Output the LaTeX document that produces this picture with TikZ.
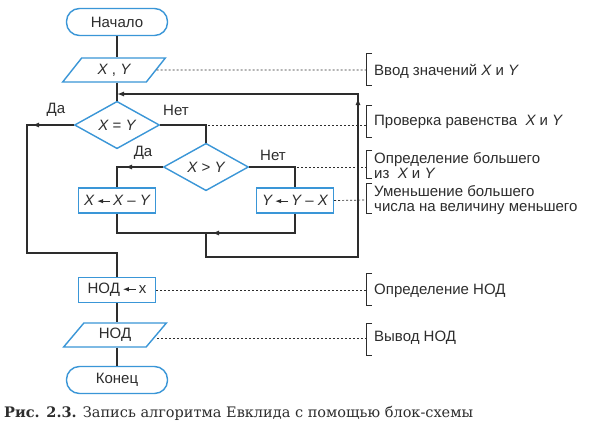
\documentclass[tikz,border=0pt]{standalone}
\usepackage{fontspec}
\setmainfont{Liberation Sans}
\newfontfamily\capfont{DejaVu Serif}
\usetikzlibrary{shapes.geometric,arrows.meta,calc}
\definecolor{shapeblue}{RGB}{58,150,215}
\definecolor{ink}{RGB}{45,45,45}
\newcommand{\lar}{\tikz[baseline=0pt,x=1pt,y=1pt]\draw[ink,line width=1pt,-{Latex[length=6pt,width=4.5pt]}] (13,4.5)--(0,4.5);}
\begin{document}
\begin{tikzpicture}[x=1pt,y=-1pt,
  font=\fontsize{15}{15}\selectfont,
  term/.style={draw=shapeblue,line width=1.4pt,fill=white,rounded corners=13pt,minimum width=101pt,minimum height=27pt,text=ink,inner sep=0pt},
  io/.style={trapezium,trapezium left angle=52,trapezium right angle=128,trapezium stretches=true,draw=shapeblue,line width=1.4pt,fill=white,minimum width=103pt,minimum height=24pt,text=ink,inner sep=0pt},
  cond/.style={diamond,draw=shapeblue,line width=1.4pt,fill=white,minimum width=85pt,minimum height=41pt,text=ink,inner sep=0pt},
  proc/.style={draw=shapeblue,line width=1.4pt,fill=white,minimum width=77pt,minimum height=25pt,text=ink,inner sep=0pt},
  conn/.style={draw=ink,line width=1.3pt},
  tip/.style={conn,-{Latex[length=7pt,width=5pt]}},
  guide/.style={draw=ink,line width=0.7pt,dash pattern=on 2pt off 2pt},
  brk/.style={draw=ink,line width=0.8pt},
  note/.style={anchor=west,text=ink,inner sep=0pt,align=left,font=\fontsize{15}{15}\selectfont},
  lbl/.style={text=ink,inner sep=0pt}]
\fill[white] (0,0) rectangle (597,434);
\useasboundingbox (0,0) rectangle (597,434);

% shapes
\node[term] (start) at (117,22) {Начало};
\node[io] (in) at (114,70) {{\itshape X} , {\itshape Y}};
\node[cond] (eq) at (117,125) {{\itshape X} = {\itshape Y}};
\node[cond] (gt) at (206,167) {{\itshape X} > {\itshape Y}};
\node[proc] (xbox) at (117,200.5) {{\itshape X}\,\lar\,{\itshape X} -- {\itshape Y}};
\node[proc] (ybox) at (295,200.5) {{\itshape Y}\,\lar\,{\itshape Y} -- {\itshape X}};
\node[proc] (nod) at (117,290) {НОД\,\lar\,x};
\node[io] (out) at (115,335) {НОД};
\node[term] (end) at (117,380) {Конец};

% bend points
\coordinate (eqL) at (27,125);
\coordinate (eqLd) at (27,253);
\coordinate (joinL) at (117,253);
\coordinate (mrg) at (206,233);
\coordinate (mrgd) at (206,257);
\coordinate (loopBR) at (358,257);
\coordinate (loopTR) at (358,94);
\coordinate (loopIn) at (117,94);

% connectors
\draw[conn] (start.south) -- (start.south |- in.north);
\draw[conn] (start.south |- in.south) -- (eq.north);
\draw[conn] (eq.west) -- (eqL) -- (eqLd) -- (joinL) -- (nod.north);
\draw[tip] (eq.west) -- (32,125);
\draw[conn] (eq.east) -| (gt.north);
\draw[conn] (gt.west) -| (xbox.north);
\draw[tip] (gt.west) -- (125,167);
\draw[conn] (gt.east) -| (ybox.north);
\draw[conn] (xbox.south) |- (mrg);
\draw[conn] (ybox.south) |- (mrg);
\draw[tip] (ybox.south |- mrg) -- (212,233);
\draw[tip] (mrg) -- (mrgd) -- (loopBR) -- (loopTR) -- (loopIn);
\draw[tip] (loopBR) -- (358,98);
\draw[conn] (nod.south) -- (nod.south |- out.north);
\draw[conn] (nod.south |- out.south) -- (end.north);

% branch labels
\node[lbl] (da1) at (56,110) {Да};
\node[lbl] (net1) at (176,110) {Нет};
\node[lbl] (da2) at (143,153) {Да};
\node[lbl] (net2) at (273,155) {Нет};

% annotation guides
\coordinate (g1) at (366,70);
\coordinate (g2) at (366,125);
\coordinate (g3) at (366,167);
\coordinate (g4) at (366,200);
\coordinate (g5) at (366,290);
\coordinate (g6) at (366,338);
\draw[guide] (in.east) -- (g1);
\draw[guide] (eq.east) -- (g2);
\draw[guide] (gt.east) -- (g3);
\draw[guide] (ybox.east) -- (g4);
\draw[guide] (nod.east) -- (g5);
\draw[guide] (out.east |- g6) -- (g6);

% brackets
\draw[brk] (372,53) -- (366,53) -- (366,85) -- (372,85);
\draw[brk] (372,105) -- (366,105) -- (366,137) -- (372,137);
\draw[brk] (372,150) -- (366,150) -- (366,178) -- (372,178);
\draw[brk] (372,183) -- (366,183) -- (366,213) -- (372,213);
\draw[brk] (372,273) -- (366,273) -- (366,305) -- (372,305);
\draw[brk] (372,323) -- (366,323) -- (366,355) -- (372,355);

% annotation texts
\node[note] (t1) at (374,71) {Ввод значений {\itshape X} и {\itshape Y}};
\node[note] (t2) at (374,122) {Проверка равенства\ \ {\itshape X} и {\itshape Y}};
\node[note] (t3) at (374,165.5) {Определение большего\\из\ \ {\itshape X} и {\itshape Y}};
\node[note] (t4) at (374,200.5) {Уменьшение большего\\числа на величину меньшего};
\node[note] (t5) at (374,291) {Определение НОД};
\node[note] (t6) at (374,338) {Вывод НОД};

% caption
\node[anchor=west,inner sep=0pt,text=ink] (cap) at (4,413) {\capfont\fontsize{14.5}{15}\selectfont\textbf{Рис. 2.3.} Запись алгоритма Евклида с помощью блок-схемы};
\end{tikzpicture}
\end{document}
